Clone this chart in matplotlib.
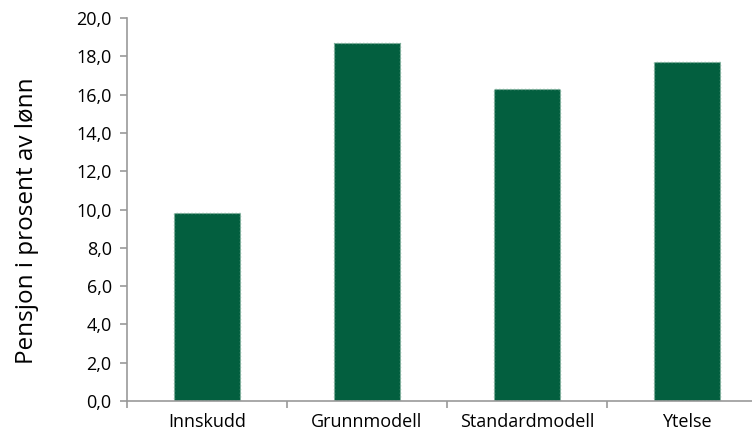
import matplotlib.pyplot as plt
import numpy as np

categories = ['Innskudd', 'Grunnmodell', 'Standardmodell', 'Ytelse']
values = [9.8, 18.7, 16.3, 17.7]
yticks = [0, 2, 4, 6, 8, 10, 12, 14, 16, 18, 20]

plt.rcParams['font.family'] = ['Open Sans', 'DejaVu Sans']

fig = plt.figure(figsize=(7.52, 4.36), dpi=100)
# the category axis runs a bit past the right edge, as in the original
ax = fig.add_axes([0.1689, 0.0803, 0.851, 0.878])

x = np.arange(len(categories))
ax.bar(x, values, width=0.41, color='#035F3F', edgecolor='#7FB09A',
       linestyle=':', linewidth=1.0)

ax.set_xlim(-0.5, len(categories) - 0.5)
ax.set_ylim(0, 20)
ax.set_yticks(yticks)
ax.set_yticklabels([f'{v:.1f}'.replace('.', ',') for v in yticks], fontsize=13)
ax.set_xticks(x)
ax.set_xticklabels(categories, fontsize=13)
ax.set_xticks(np.arange(-0.5, len(categories)), minor=True)
ax.tick_params(axis='x', which='major', length=0, pad=9)
ax.tick_params(axis='x', which='minor', length=5, color='#999999', width=1.2)
ax.tick_params(axis='y', length=5, color='#999999', width=1.2, direction='out', pad=6)

for side in ['top', 'right']:
    ax.spines[side].set_visible(False)
for side in ['left', 'bottom']:
    ax.spines[side].set_color('#999999')
    ax.spines[side].set_linewidth(1.2)

ax.set_ylabel('Pensjon i prosent av lønn', fontsize=17.5)
ax.yaxis.set_label_coords(-0.138, 0.47)

fig.savefig('out.png', dpi=100)
